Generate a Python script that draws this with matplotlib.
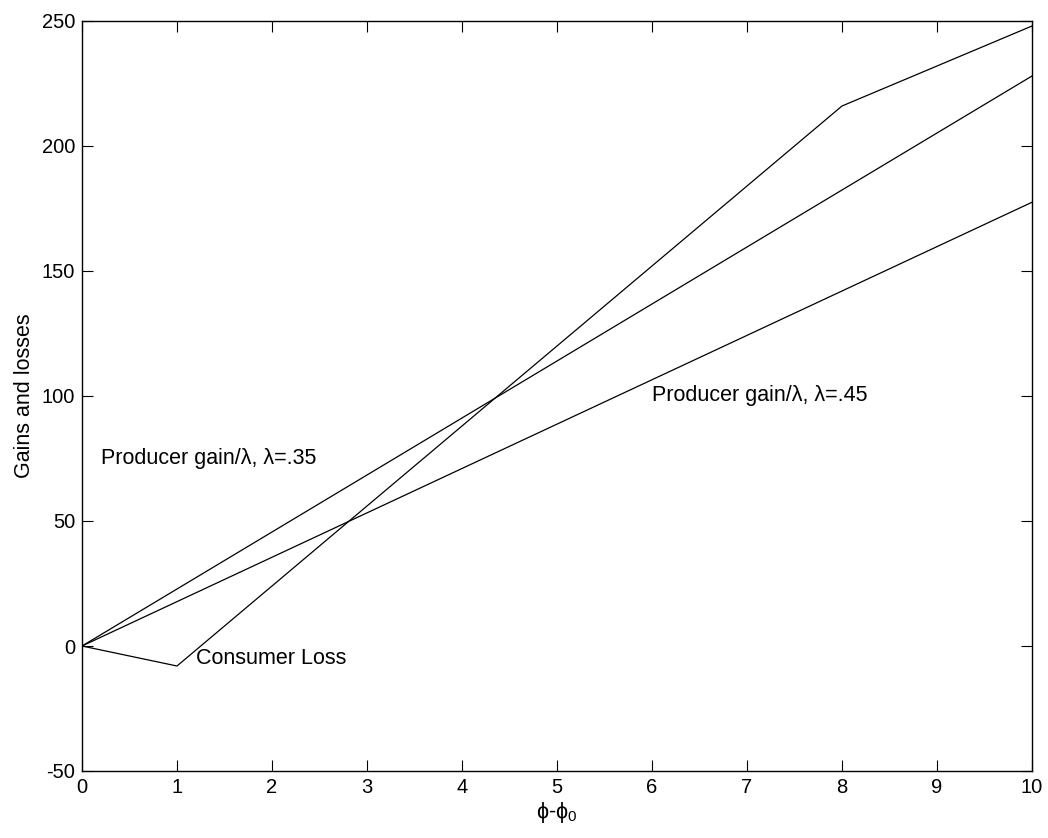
import matplotlib
matplotlib.use("Agg")
import matplotlib.pyplot as plt

plt.rcParams['font.family'] = ['Liberation Sans', 'DejaVu Sans']
plt.rcParams['mathtext.fontset'] = 'custom'
plt.rcParams['mathtext.rm'] = 'Liberation Sans'
plt.rcParams['mathtext.it'] = 'Liberation Sans'
plt.rcParams['axes.unicode_minus'] = False

# Data
consumer_x = [0, 1, 8, 10]
consumer_y = [0, -8, 216, 248]
gain35_x = [0, 10]
gain35_y = [0, 228]
gain45_x = [0, 10]
gain45_y = [0, 177.5]

xticks = list(range(0, 11))
yticks = [-50, 0, 50, 100, 150, 200, 250]

fig = plt.figure(figsize=(10.48, 8.38), dpi=100)
ax = fig.add_axes([82/1048, 1 - 771/838, (1032-82)/1048, (771-21)/838])

for xs, ys in [(consumer_x, consumer_y), (gain35_x, gain35_y), (gain45_x, gain45_y)]:
    ax.plot(xs, ys, color='black', linewidth=0.9)

ax.set_xlim(0, 10)
ax.set_ylim(-50, 250)
ax.set_xticks(xticks)
ax.set_yticks(yticks)
ax.tick_params(direction='in', top=True, right=True, labelsize=14.5, length=8, width=0.8, pad=5)
for s in ax.spines.values():
    s.set_linewidth(1.0)

fs = 15.5
ax.text(0.2, 75, 'Producer gain/λ, λ=.35', fontsize=fs, va='center', ha='left')
ax.text(6.0, 100, 'Producer gain/λ, λ=.45', fontsize=fs, va='center', ha='left')
ax.text(1.2, -5, 'Consumer Loss', fontsize=fs, va='center', ha='left')

ax.set_xlabel('ϕ-ϕ$_0$', fontsize=fs, labelpad=2)
ax.set_ylabel('Gains and losses', fontsize=fs, labelpad=5)

fig.savefig('out.png', dpi=100)
